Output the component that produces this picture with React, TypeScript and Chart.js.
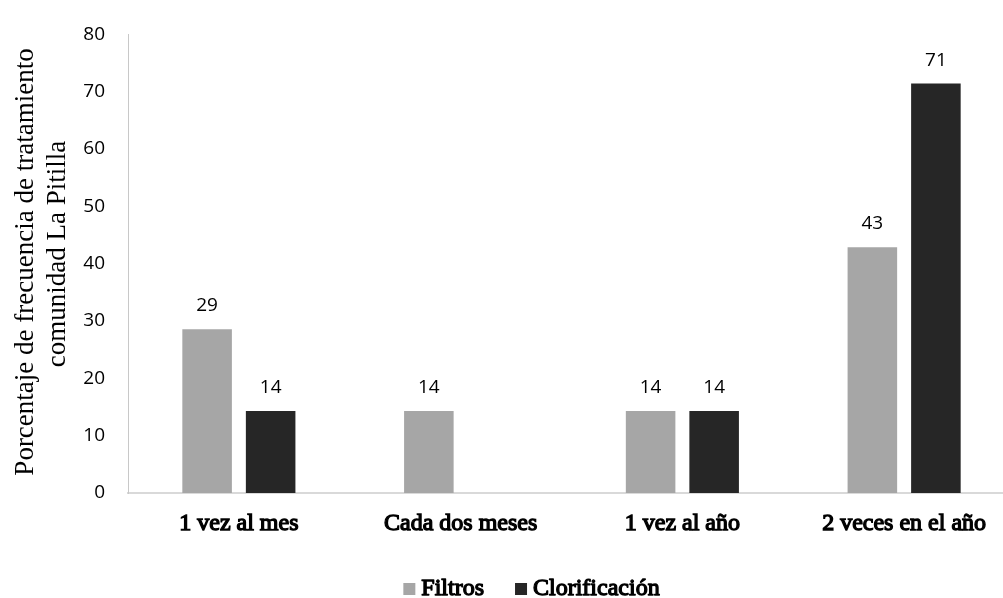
import React, { useEffect, useRef } from "react";
import { Chart, registerables } from "chart.js";

Chart.register(...registerables);

const categories = ["1 vez al mes", "Cada dos meses", "1 vez al año", "2 veces en el año"];
const seriesNames = ["Filtros", "Clorificación"];
const filtros = [28.57, 14.29, 14.29, 42.86];
const clorificacion = [14.29, 0, 14.29, 71.43];
const seriesColors = ["#a6a6a6", "#262626"];
const yTitleLines = ["Porcentaje de frecuencia de tratamiento", "comunidad La Pitilla"];
const yMin = 0;
const yMax = 80;
const yStep = 10;

const CANVAS_W = 1040;
const CANVAS_H = 598;
const SERIF = '"Liberation Serif"';

const valueLabels = {
  id: "valueLabels",
  afterDatasetsDraw(chart: any) {
    const ctx = chart.ctx;
    ctx.save();
    ctx.font = '19px "Open Sans"';
    ctx.fillStyle = "#000";
    ctx.textAlign = "center";
    ctx.textBaseline = "alphabetic";
    chart.data.datasets.forEach((ds: any, i: number) => {
      const meta = chart.getDatasetMeta(i);
      meta.data.forEach((bar: any, j: number) => {
        const v = ds.data[j];
        if (!v) return;
        ctx.fillText(String(Math.round(v)), bar.x, bar.y - 18);
      });
    });
    ctx.restore();
  },
};

const yTitle = {
  id: "yTitle",
  afterDraw(chart: any) {
    const ctx = chart.ctx;
    const pos = [
      { x: 33, y: 262 },
      { x: 65, y: 254 },
    ];
    ctx.save();
    ctx.font = "27px " + SERIF;
    ctx.fillStyle = "#000";
    ctx.textAlign = "center";
    ctx.textBaseline = "alphabetic";
    yTitleLines.forEach((line, i) => {
      ctx.save();
      ctx.translate(pos[i].x, pos[i].y);
      ctx.rotate(-Math.PI / 2);
      ctx.fillText(line, 0, 0);
      ctx.restore();
    });
    ctx.restore();
  },
};

const customLegend = {
  id: "customLegend",
  afterDraw(chart: any) {
    const ctx = chart.ctx;
    ctx.save();
    ctx.font = "24px " + SERIF;
    ctx.textBaseline = "alphabetic";
    ctx.textAlign = "left";
    ctx.lineJoin = "round";
    const box = 12;
    const gapBoxText = 6;
    const gapItems = 30;
    const widths = seriesNames.map((n) => ctx.measureText(n).width + 1);
    const total =
      widths.reduce((a, w) => a + box + gapBoxText + w, 0) + gapItems * (seriesNames.length - 1);
    let x = 532 - total / 2;
    const baseline = 595;
    seriesNames.forEach((n, i) => {
      ctx.fillStyle = seriesColors[i];
      ctx.fillRect(x, baseline - 12, box, box);
      x += box + gapBoxText;
      ctx.fillStyle = "#000";
      ctx.strokeStyle = "#000";
      ctx.lineWidth = 1.3;
      ctx.fillText(n, x, baseline);
      ctx.strokeText(n, x, baseline);
      x += widths[i] + gapItems;
    });
    ctx.restore();
  },
};

export default function App() {
  const ref = useRef<HTMLCanvasElement | null>(null);

  useEffect(() => {
    let chart: any = null;
    let cancelled = false;
    const build = () => {
      if (cancelled || !ref.current) return;
      chart = new Chart(ref.current, {
        type: "bar",
        data: {
          labels: categories,
          datasets: [
            {
              label: seriesNames[0],
              data: filtros,
              backgroundColor: seriesColors[0],
              barPercentage: 0.78,
              categoryPercentage: 0.573,
            },
            {
              label: seriesNames[1],
              data: clorificacion,
              backgroundColor: seriesColors[1],
              barPercentage: 0.78,
              categoryPercentage: 0.573,
            },
          ],
        },
        options: {
          animation: false,
          responsive: false,
          devicePixelRatio: 1,
          layout: { padding: { left: 0, top: 24, right: 25, bottom: 0 } },
          plugins: {
            legend: { display: false },
            tooltip: { enabled: false },
            title: { display: false },
          },
          scales: {
            x: {
              grid: { display: false, drawTicks: false },
              border: { display: true, color: "#d9d9d9", width: 2 },
              ticks: {
                font: { family: SERIF, size: 24 },
                color: "#000",
                textStrokeColor: "#000",
                textStrokeWidth: 1.3,
                padding: 16,
                maxRotation: 0,
                autoSkip: false,
              },
              afterFit(scale: any) {
                scale.height = 105;
              },
            },
            y: {
              min: yMin,
              max: yMax,
              grid: { display: false, drawTicks: false },
              border: { display: true, color: "#c8c8c8", width: 1 },
              ticks: {
                stepSize: yStep,
                font: { family: '"Open Sans"', size: 19 },
                color: "#000",
                padding: 23,
              },
              title: { display: false },
              afterFit(scale: any) {
                scale.width = 128;
              },
            },
          },
        },
        plugins: [valueLabels, yTitle, customLegend],
      });
    };
    const fonts: any = (document as any).fonts;
    if (fonts && fonts.load) {
      Promise.all([
        fonts.load("24px " + SERIF),
        fonts.load('19px "Open Sans"'),
      ])
        .catch(() => null)
        .then(build);
    } else {
      build();
    }
    return () => {
      cancelled = true;
      if (chart) chart.destroy();
    };
  }, []);

  return (
    <div
      style={{
        position: "fixed",
        left: 0,
        top: 0,
        width: 1003,
        height: 598,
        overflow: "hidden",
        background: "#fff",
      }}
    >
      <canvas
        ref={ref}
        width={CANVAS_W}
        height={CANVAS_H}
        style={{ width: CANVAS_W, height: CANVAS_H, display: "block" }}
      />
    </div>
  );
}
